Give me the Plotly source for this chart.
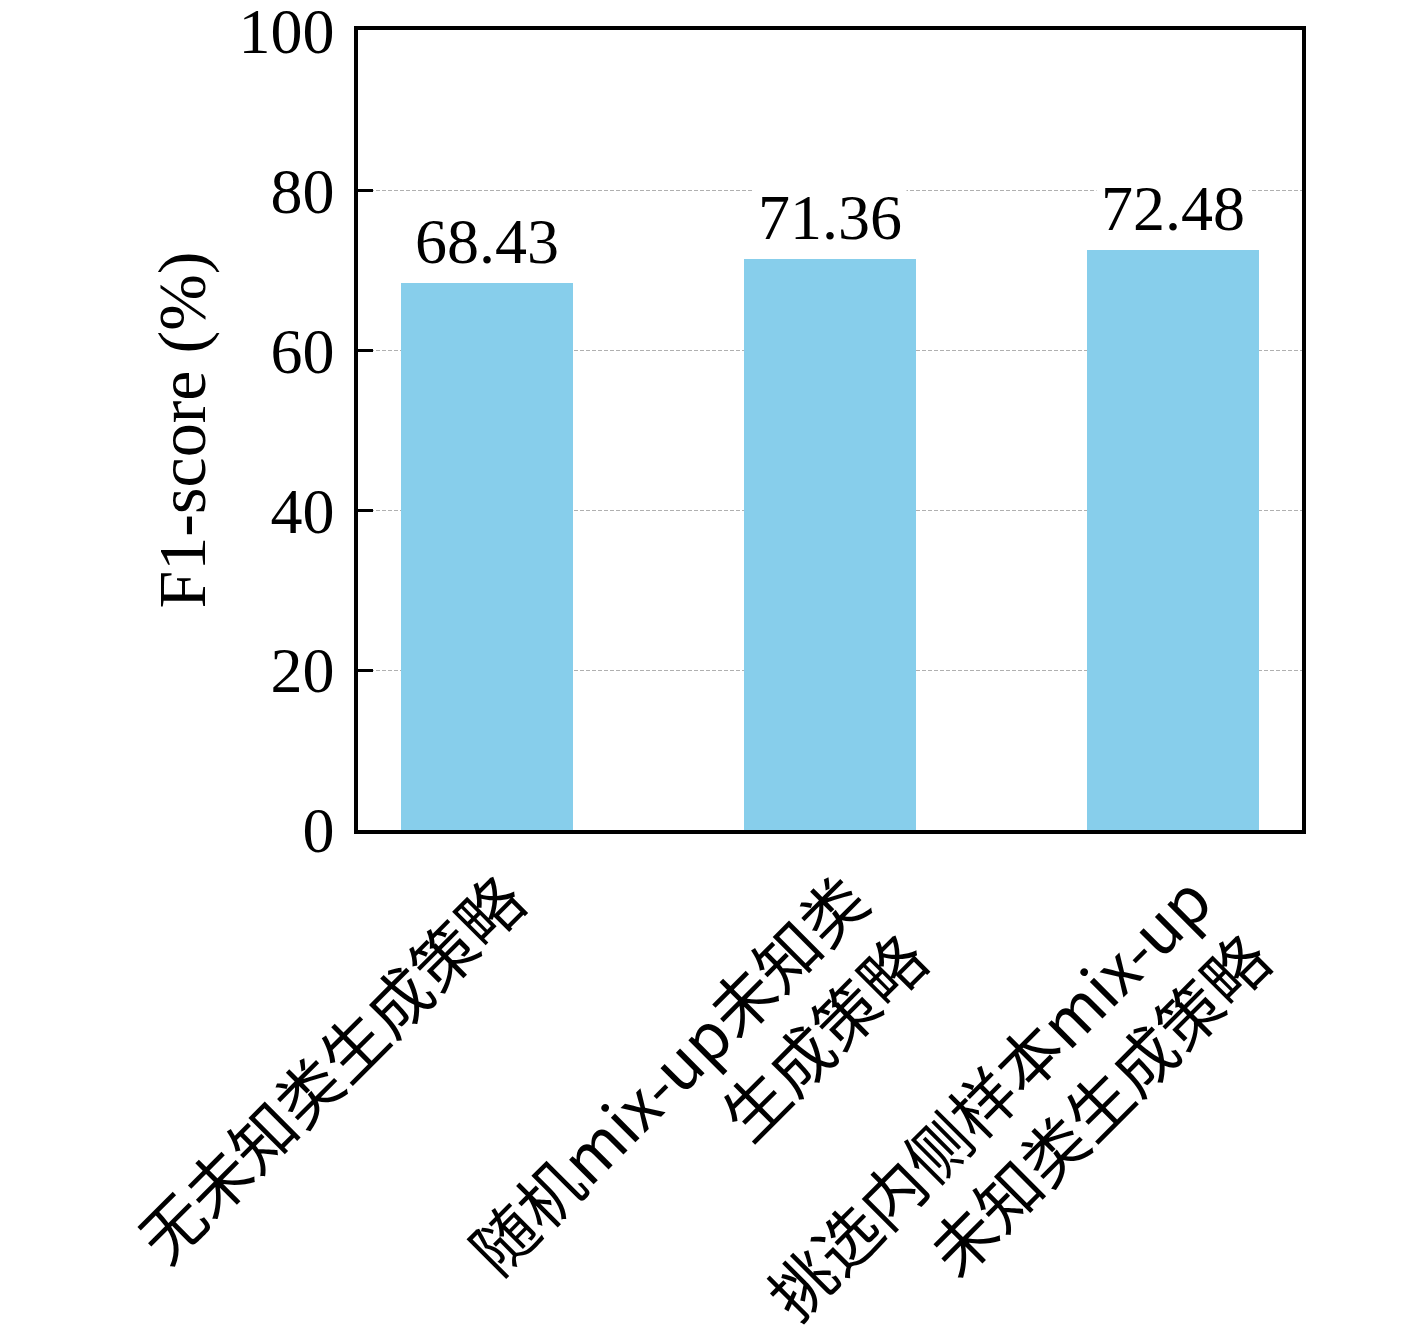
import plotly.graph_objects as go

categories = ["无未知类生成策略", "随机mix-up未知类<br>生成策略", "挑选内侧样本mix-up<br>未知类生成策略"]
values = [68.43, 71.36, 72.48]
value_labels = ["68.43", "71.36", "72.48"]
y_ticks = [0, 20, 40, 60, 80, 100]

FONT = "Liberation Serif, Noto Sans CJK SC, serif"
x_idx = list(range(len(categories)))

fig = go.Figure()
fig.add_trace(go.Bar(
    x=x_idx, y=values, width=0.5,
    marker=dict(color="#87CEEB", line=dict(width=0)),
))

for i, (v, t) in enumerate(zip(values, value_labels)):
    fig.add_annotation(
        x=i, y=v, text=t, showarrow=False, yanchor="bottom", yshift=1,
        bgcolor="white", borderpad=4,
        font=dict(family=FONT, size=64, color="black"),
    )

fig.update_layout(
    width=1417, height=1335,
    margin=dict(l=350, r=123, t=22, b=513, autoexpand=False),
    plot_bgcolor="white", paper_bgcolor="white",
    showlegend=False,
    font=dict(family=FONT, size=64, color="black"),
    bargap=0,
)
fig.update_xaxes(
    range=[-0.375, 2.375], automargin=False,
    tickmode="array", tickvals=x_idx, ticktext=categories,
    tickangle=-45, ticks="",
    tickfont=dict(family="Noto Sans CJK SC", size=64, color="black"),
    showline=True, linecolor="black", linewidth=3.5, mirror=True,
    showgrid=False, zeroline=False,
    ticklabelshift=20, ticklabelstandoff=4,
)
fig.update_yaxes(
    range=[0, 100.05], automargin=False, tickmode="array", tickvals=y_ticks,
    ticks="inside", ticklen=15, tickwidth=3, tickcolor="black",
    tickfont=dict(family=FONT, size=64, color="black"),
    ticklabelstandoff=7, ticklabeloverflow="allow",
    showline=True, linecolor="black", linewidth=3.5, mirror=True,
    showgrid=True, gridcolor="#b0b0b0", gridwidth=1, griddash="4px,2px",
    zeroline=False,
    title=dict(text="F1-score (%)", font=dict(family=FONT, size=68, color="black"), standoff=12),
)

fig.write_html("out.html")
